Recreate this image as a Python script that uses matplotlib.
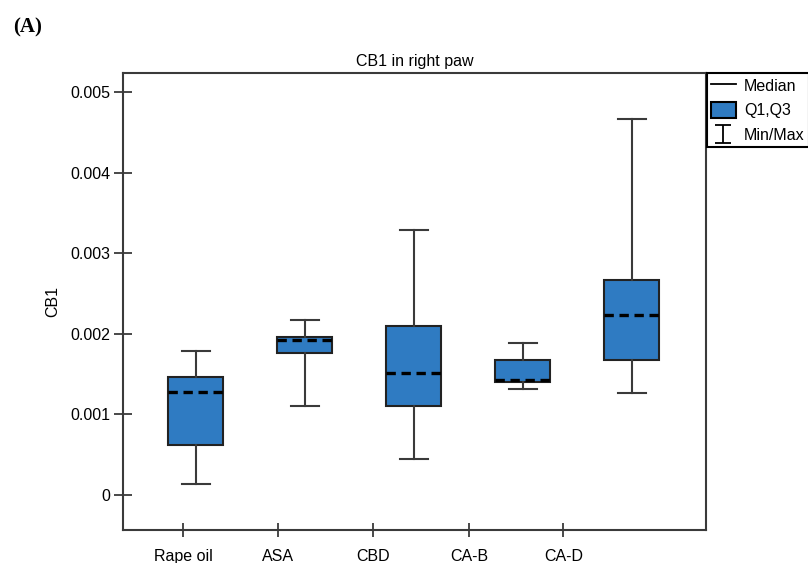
import matplotlib
matplotlib.use("Agg")
from matplotlib import pyplot as plt
from matplotlib.lines import Line2D
from matplotlib.patches import Patch
from matplotlib.path import Path

groups = ["Rape oil", "ASA", "CBD", "CA-B", "CA-D"]
mins = [0.00014, 0.00111, 0.00045, 0.00132, 0.00126]
q1s = [0.00062, 0.00176, 0.00110, 0.00140, 0.00167]
medians = [0.00128, 0.00192, 0.00151, 0.00143, 0.00223]
q3s = [0.00147, 0.00196, 0.00210, 0.00168, 0.00267]
maxs = [0.00179, 0.00217, 0.00329, 0.00189, 0.00467]

# the category ticks do not sit under the boxes in the original
tick_pos = [-0.114, 0.752, 1.624, 2.507, 3.372]
yticks = [0, 0.001, 0.002, 0.003, 0.004, 0.005]
ytick_labels = ["0", "0.001", "0.002", "0.003", "0.004", "0.005"]

plt.rcParams["font.family"] = ["Liberation Sans", "DejaVu Sans"]
box_color = "#2f7bc2"
line_color = "#3a3a3a"

fig = plt.figure(figsize=(8.08, 5.63), dpi=100)
ax = fig.add_axes([0.1519, 0.0586, 0.7219, 0.8123])

stats = []
for g, lo, a, m, b, hi in zip(groups, mins, q1s, medians, q3s, maxs):
    stats.append(dict(label=g, whislo=lo, q1=a, med=m, q3=b, whishi=hi, fliers=[]))

ax.bxp(stats, positions=range(len(groups)), widths=0.505, patch_artist=True,
       showfliers=False, capwidths=0.26,
       boxprops=dict(facecolor=box_color, edgecolor="#222222", linewidth=1.5),
       medianprops=dict(color="black", linewidth=2.4, linestyle=(0, (2.8, 1.7))),
       whiskerprops=dict(color=line_color, linewidth=1.5),
       capprops=dict(color=line_color, linewidth=1.5))

ax.set_xlim(-0.67, 4.68)
ax.set_ylim(-0.000434, 0.00524)
ax.set_xticks(tick_pos)
ax.set_xticklabels(groups)
ax.set_yticks(yticks)
ax.set_yticklabels(ytick_labels)
ax.tick_params(axis="y", direction="inout", length=13, width=1.3, color=line_color,
               labelsize=11.5, pad=2.5)
ax.tick_params(axis="x", direction="inout", length=10, width=1.3, color=line_color,
               labelsize=11.5, pad=9)
for s in ax.spines.values():
    s.set_color(line_color)
    s.set_linewidth(1.5)

ax.set_title("CB1 in right paw", fontsize=11.5, pad=5)
ax.set_ylabel("CB1", fontsize=11.5)
ax.yaxis.set_label_coords(-0.107, 0.5)

fig.text(13 / 808, 1 - 32 / 563, "(A)", family="Liberation Serif", weight="bold",
         fontsize=15, va="baseline")

# I-beam marker for min/max
ibeam = Path([(-0.9, -1), (0.9, -1), (0, -1), (0, 1), (-0.9, 1), (0.9, 1)],
             [Path.MOVETO, Path.LINETO, Path.MOVETO, Path.LINETO, Path.MOVETO, Path.LINETO])
handles = [
    Line2D([], [], color="black", linewidth=1.3),
    Patch(facecolor=box_color, edgecolor="black", linewidth=1.5),
    Line2D([], [], color="black", linestyle="none", marker=ibeam, markersize=13.5,
           markeredgewidth=1.3),
]
leg = fig.legend(handles, ["Median", "Q1,Q3", "Min/Max"], loc="upper left",
                 bbox_to_anchor=(0.8746, 0.8703), fontsize=11.5, fancybox=False,
                 framealpha=1, edgecolor="black", borderpad=0.25, labelspacing=0.52,
                 handlelength=1.6, handleheight=1.2, handletextpad=0.5,
                 borderaxespad=0)
leg.get_frame().set_linewidth(1.5)

plt.savefig("out.png")
plt.close()
